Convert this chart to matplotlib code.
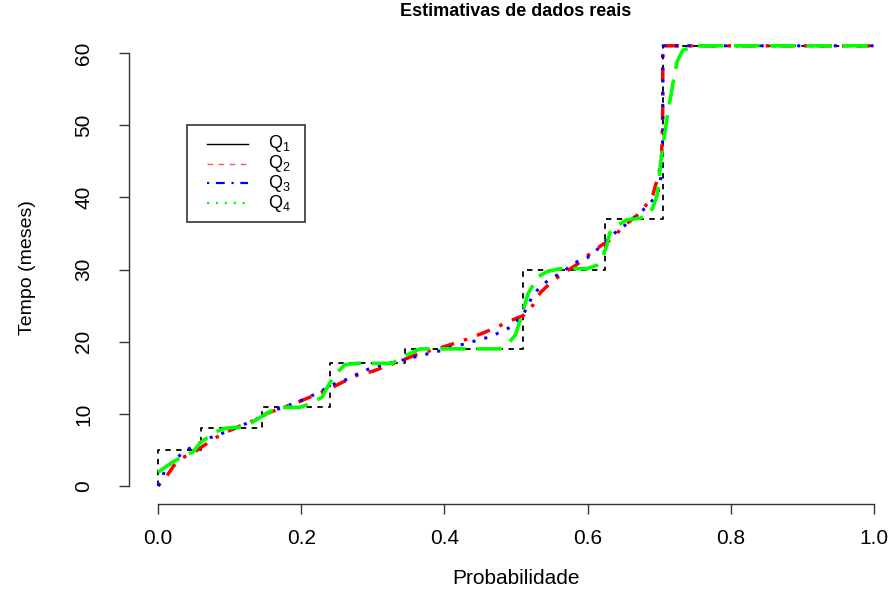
import matplotlib
matplotlib.use("Agg")
import matplotlib.pyplot as plt
from matplotlib.lines import Line2D
from matplotlib.patches import Rectangle

plt.rcParams["font.family"] = ["Liberation Sans", "DejaVu Sans"]
plt.rcParams["mathtext.fontset"] = "custom"
plt.rcParams["mathtext.rm"] = "Liberation Sans"

# Q1: empirical quantile function (step)
q1_p = [0.0, 0.0, 0.06, 0.145, 0.24, 0.345, 0.51, 0.625, 0.705, 1.0]
q1_t = [0, 5, 8, 11, 17, 19, 30, 37, 61, 61]

# Q2: smoothed estimate
q2_p = [0.000, 0.007, 0.013, 0.022, 0.034, 0.049, 0.070, 0.089, 0.114, 0.135,
        0.153, 0.195, 0.236, 0.258, 0.279, 0.300, 0.324, 0.348, 0.366, 0.390,
        0.412, 0.433, 0.454, 0.473, 0.492, 0.510, 0.524, 0.534, 0.552, 0.585,
        0.601, 0.620, 0.634, 0.649, 0.669, 0.680, 0.691, 0.697, 0.703, 0.704,
        0.705, 0.705, 0.705, 1.000]
q2_t = [0.0, 0.8, 1.5, 2.8, 3.9, 4.6, 6.0, 7.2, 8.3, 9.1,
        10.1, 11.6, 13.3, 14.4, 15.4, 15.9, 16.8, 17.7, 18.4, 19.0,
        19.7, 20.4, 21.2, 22.0, 22.9, 23.6, 25.1, 26.8, 28.5, 30.7,
        32.0, 33.4, 34.2, 35.9, 37.5, 38.7, 40.3, 42.4, 44.9, 47.7,
        52.4, 56.5, 61.0, 61.0]

# Q3: smoothed estimate
q3_p = [0.000, 0.006, 0.010, 0.020, 0.031, 0.042, 0.059, 0.073, 0.087, 0.103,
        0.119, 0.133, 0.152, 0.194, 0.208, 0.223, 0.251, 0.265, 0.282, 0.299,
        0.314, 0.331, 0.348, 0.380, 0.397, 0.412, 0.429, 0.446, 0.461, 0.478,
        0.492, 0.503, 0.510, 0.524, 0.534, 0.545, 0.557, 0.571, 0.587, 0.599,
        0.610, 0.622, 0.631, 0.645, 0.655, 0.677, 0.687, 0.697, 0.701, 0.704,
        0.705, 0.705, 1.000]
q3_t = [0.0, 1.2, 2.4, 3.3, 4.3, 5.1, 6.0, 6.7, 7.2, 7.8,
        8.5, 9.0, 10.1, 11.6, 12.2, 12.9, 14.4, 14.8, 15.7, 16.4,
        16.8, 17.2, 17.6, 18.4, 18.8, 19.3, 19.7, 20.2, 20.6, 21.3,
        22.0, 23.0, 23.7, 26.5, 27.6, 28.5, 29.2, 30.1, 31.2, 31.6,
        32.4, 33.7, 34.4, 35.7, 36.3, 38.2, 39.2, 40.3, 41.7, 44.1,
        49.3, 61.0, 61.0]

# Q4: smoothed estimate
q4_p = [0.000, 0.020, 0.031, 0.049, 0.059, 0.080, 0.094, 0.122, 0.133, 0.156,
        0.170, 0.198, 0.212, 0.229, 0.236, 0.247, 0.261, 0.278, 0.327, 0.342,
        0.366, 0.478, 0.487, 0.499, 0.506, 0.517, 0.531, 0.543, 0.561, 0.599,
        0.613, 0.622, 0.627, 0.631, 0.638, 0.655, 0.673, 0.684, 0.691, 0.697,
        0.704, 0.711, 0.718, 0.725, 0.733, 0.753, 1.000]
q4_t = [1.9, 3.3, 3.9, 4.7, 6.0, 7.5, 8.0, 8.2, 8.9, 10.3,
        10.9, 10.9, 11.4, 12.3, 13.6, 15.4, 16.8, 17.0, 17.0, 17.9,
        19.0, 19.0, 19.5, 20.9, 23.0, 26.7, 29.0, 29.7, 30.1, 30.1,
        30.6, 32.0, 33.4, 35.1, 35.9, 36.9, 37.1, 37.5, 38.5, 40.3,
        46.3, 51.0, 55.1, 58.8, 60.4, 61.0, 61.0]

x_ticks = [0.0, 0.2, 0.4, 0.6, 0.8, 1.0]
y_ticks = [0, 10, 20, 30, 40, 50, 60]
legend_labels = [r"$\mathregular{Q_1}$", r"$\mathregular{Q_2}$",
                 r"$\mathregular{Q_3}$", r"$\mathregular{Q_4}$"]

W, H = 896, 595
fig = plt.figure(figsize=(W / 100, H / 100), dpi=100)

# plot region in pixels (left, top, right, bottom)
L, T, R, B = 129.4, 28.2, 902.6, 503.6
ax = fig.add_axes([L / W, 1 - B / H, (R - L) / W, (B - T) / H])
ax.set_xlim(-0.04, 1.04)
ax.set_ylim(-2.44, 63.44)

ax.step(q1_p, q1_t, where="post", color="black", lw=1.3,
        linestyle=(0, (3, 3)), zorder=2)
ax.plot(q2_p, q2_t, color="red", lw=2.5, linestyle=(0, (1, 3, 4, 3)),
        solid_capstyle="butt", zorder=3)
ax.plot(q3_p, q3_t, color="blue", lw=2.2, linestyle=(0, (1, 3)), zorder=4)
ax.plot(q4_p, q4_t, color="#00FF00", lw=2.6, linestyle=(0, (7, 3)), zorder=5)

for side in ("top", "right"):
    ax.spines[side].set_visible(False)
ax.spines["left"].set_bounds(0, 60)
ax.spines["bottom"].set_bounds(0, 1)
for side in ("left", "bottom"):
    ax.spines[side].set_color("#333333")
    ax.spines[side].set_linewidth(1.0)

ax.set_xticks(x_ticks)
ax.set_xticklabels([f"{v:.1f}" for v in x_ticks])
ax.set_yticks(y_ticks)
ax.set_yticklabels([str(v) for v in y_ticks], rotation=90, va="center")
ax.tick_params(axis="both", length=7, width=1.0, color="#333333",
               labelsize=15)
ax.tick_params(axis="x", pad=11)
ax.tick_params(axis="y", pad=19)

fig.text(27 / W, 1 - 268 / H, "Tempo (meses)", rotation=90,
         ha="center", va="center", fontsize=14)
fig.text(516 / W, 1 - 578 / H, "Probabilidade", ha="center",
         va="center", fontsize=15)
fig.text(516 / W, 1 - 12 / H, "Estimativas de dados reais", ha="center",
         va="center", fontsize=13, fontweight="bold")

# legend box
fig.patches.append(Rectangle((187 / W, 1 - 222 / H), 118 / W, 97 / H,
                             transform=fig.transFigure, fill=False,
                             edgecolor="#333333", lw=1.2))
leg_styles = [
    dict(color="black", lw=1.0, linestyle="-"),
    dict(color="#FF5555", lw=1.0, linestyle=(0, (4, 4))),
    dict(color="blue", lw=1.6, linestyle=(0, (1, 3, 4, 3))),
    dict(color="#00FF00", lw=1.6, linestyle=(0, (1, 3))),
]
rows = [144, 164, 183, 203]
for yrow, sty, lab in zip(rows, leg_styles, legend_labels):
    fig.lines.append(Line2D([207 / W, 248 / W], [1 - yrow / H, 1 - yrow / H],
                            transform=fig.transFigure, **sty))
    fig.text(268 / W, 1 - yrow / H, lab, ha="left", va="center",
             fontsize=13)

fig.savefig("out.png", dpi=100)
